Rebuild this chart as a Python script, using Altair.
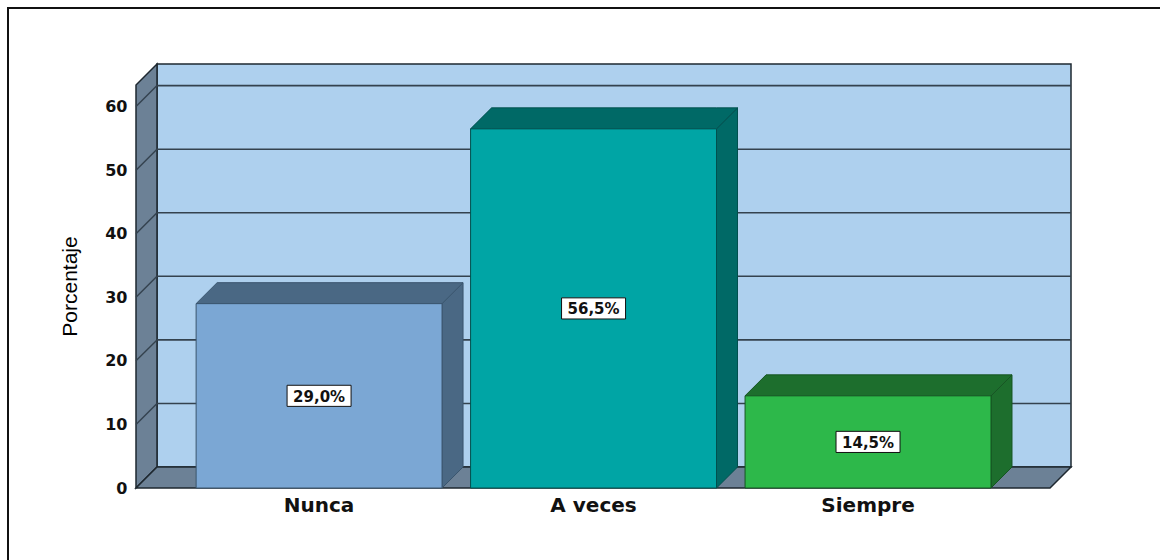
import altair as alt
import pandas as pd

# ---------------- data ----------------
categories = ["Nunca", "A veces", "Siempre"]
percentages = [29.0, 56.5, 14.5]
value_labels = ["29,0%", "56,5%", "14,5%"]
y_ticks = [0, 10, 20, 30, 40, 50, 60]

# ---------------- styles ----------------
front_colors = ["#7BA7D4", "#00A5A5", "#2DB84A"]
dark_colors = ["#4A6884", "#006966", "#1D6E2D"]
edge_colors = ["#3A556E", "#00504E", "#165522"]
WALL_BACK = "#AED0EE"
WALL_SIDE = "#6C8196"
LINE_DARK = "#1E2830"
GRID = "#34424E"

# ---------------- geometry (scale units) ----------------
BAR_W = 0.896      # bar front width (category slot = 1)
DX = 0.0765        # depth offset, x
DY = 3.3           # depth offset, value units
X_LEFT = -0.667    # front-left corner of floor
X_RIGHT = 2.663    # front-right corner of floor
Y_TOP = 63.4       # top of walls (front)
YMAX = Y_TOP + DY
XMIN, XMAX = X_LEFT, X_RIGHT + DX

PLOT_W, PLOT_H = 935, 424

xs = alt.Scale(domain=[XMIN, XMAX], nice=False, zero=False)
ys = alt.Scale(domain=[0, YMAX], nice=False, zero=False)

y_axis = alt.Axis(
    values=y_ticks, grid=False, domain=False, ticks=False,
    labelFont="DejaVu Sans", labelFontWeight="bold", labelFontSize=16,
    labelColor="#111111", labelPadding=9,
    title="Porcentaje", titleFont="Liberation Sans", titleFontSize=21,
    titleFontWeight=500, titleColor="#000000",
    titleX=-66, titleY=222, titleAngle=270, titleAlign="center", titleBaseline="middle",
)


def X(f="x"):
    return alt.X(f"{f}:Q", scale=xs, axis=None)


def X2(f="x2"):
    return alt.X2(f"{f}:Q")


def Y(f="y"):
    return alt.Y(f"{f}:Q", scale=ys, axis=y_axis)


def Y2(f="y2"):
    return alt.Y2(f"{f}:Q")


centers = list(range(len(categories)))

# back wall
back_df = pd.DataFrame([{"x": X_LEFT + DX, "x2": X_RIGHT + DX, "y": DY, "y2": YMAX}])
back = alt.Chart(back_df).mark_rect(
    fill=WALL_BACK, stroke=LINE_DARK, strokeWidth=1.5
).encode(x=X(), x2=X2(), y=Y(), y2=Y2())

# side wall
side_df = pd.DataFrame([
    {"x": X_LEFT, "y": 0.0, "y2": Y_TOP},
    {"x": X_LEFT + DX, "y": DY, "y2": Y_TOP + DY},
])
side = alt.Chart(side_df).mark_area(
    fill=WALL_SIDE, stroke=LINE_DARK, strokeWidth=1.5, opacity=1
).encode(x=X(), y=Y(), y2=Y2())

# floor
floor_df = pd.DataFrame([
    {"x": X_LEFT, "y": 0.0, "y2": 0.0},
    {"x": X_LEFT + DX, "y": 0.0, "y2": DY},
    {"x": X_RIGHT, "y": 0.0, "y2": DY},
    {"x": X_RIGHT + DX, "y": DY, "y2": DY},
])
floor = alt.Chart(floor_df).mark_area(
    fill=WALL_SIDE, stroke=LINE_DARK, strokeWidth=1.5, opacity=1
).encode(x=X(), y=Y(), y2=Y2())

# grid lines on back wall
grid_df = pd.DataFrame([
    {"x": X_LEFT + DX, "x2": X_RIGHT + DX, "y": t + DY} for t in y_ticks[1:]
])
grid = alt.Chart(grid_df).mark_rule(stroke=GRID, strokeWidth=1.6).encode(
    x=X(), x2=X2(), y=Y()
)

# diagonal grid lines on side wall
diag_rows = []
for t in y_ticks[1:]:
    diag_rows.append({"x": X_LEFT, "y": t, "t": t})
    diag_rows.append({"x": X_LEFT + DX, "y": t + DY, "t": t})
diag = alt.Chart(pd.DataFrame(diag_rows)).mark_line(
    stroke=GRID, strokeWidth=1.4
).encode(x=X(), y=Y(), detail="t:N")

# bars: front, top, side faces
front_rows, top_rows, sidef_rows = [], [], []
for i, (c, v) in enumerate(zip(centers, percentages)):
    x0, x1 = c - BAR_W / 2, c + BAR_W / 2
    front_rows.append({"x": x0, "x2": x1, "y": 0.0, "y2": v,
                       "fill": front_colors[i], "edge": edge_colors[i]})
    for px, py, py2 in [(x0, v, v), (x0 + DX, v, v + DY), (x1, v, v + DY), (x1 + DX, v + DY, v + DY)]:
        top_rows.append({"id": i, "x": px, "y": py, "y2": py2,
                         "fill": dark_colors[i], "edge": edge_colors[i]})
    for px, py, py2 in [(x1, 0.0, v), (x1 + DX, DY, v + DY)]:
        sidef_rows.append({"id": i, "x": px, "y": py, "y2": py2,
                           "fill": dark_colors[i], "edge": edge_colors[i]})

bar_front = alt.Chart(pd.DataFrame(front_rows)).mark_rect(strokeWidth=1).encode(
    x=X(), x2=X2(), y=Y(), y2=Y2(),
    fill=alt.Fill("fill:N", scale=None), stroke=alt.Stroke("edge:N", scale=None),
)
bar_top = alt.Chart(pd.DataFrame(top_rows)).mark_area(strokeWidth=1, opacity=1).encode(
    x=X(), y=Y(), y2=Y2(), detail="id:N",
    fill=alt.Fill("fill:N", scale=None), stroke=alt.Stroke("edge:N", scale=None),
)
bar_side = alt.Chart(pd.DataFrame(sidef_rows)).mark_area(strokeWidth=1, opacity=1).encode(
    x=X(), y=Y(), y2=Y2(), detail="id:N",
    fill=alt.Fill("fill:N", scale=None), stroke=alt.Stroke("edge:N", scale=None),
)

# value labels in boxes
lab_df = pd.DataFrame({
    "x": centers,
    "y": [v / 2 for v in percentages],
    "label": value_labels,
})
BOX = "M-1,-0.33L1,-0.33L1,0.33L-1,0.33Z"
boxes = alt.Chart(lab_df).mark_point(
    shape=BOX, size=64 ** 2, filled=True, fill="white", stroke="#111111",
    strokeWidth=1, opacity=1, fillOpacity=1
).encode(x=X(), y=Y())
box_text = alt.Chart(lab_df).mark_text(
    font="DejaVu Sans", fontWeight="bold", fontSize=15, color="#111111",
    baseline="middle", align="center", dy=1
).encode(x=X(), y=Y(), text="label:N")

# category labels
cat_df = pd.DataFrame({"x": centers, "y": [0.0] * len(centers), "cat": categories})
cat_text = alt.Chart(cat_df).mark_text(
    font="DejaVu Sans", fontWeight="bold", fontSize=20, color="#111111",
    baseline="middle", align="center", dy=18
).encode(x=X(), y=Y(), text="cat:N")

# outer frame (top and left edges)
one = pd.DataFrame({"a": [0]})
frame_left = alt.Chart(one).mark_rule(stroke="#111111", strokeWidth=2).encode(
    x=alt.value(-128), y=alt.value(-56), y2=alt.value(PLOT_H + 80)
)
frame_top = alt.Chart(one).mark_rule(stroke="#111111", strokeWidth=2).encode(
    x=alt.value(-129), x2=alt.value(PLOT_W + 100), y=alt.value(-56)
)

chart = alt.layer(
    back, side, floor, grid, diag,
    bar_side, bar_top, bar_front,
    boxes, box_text, cat_text,
    frame_left, frame_top,
).properties(
    width=PLOT_W, height=PLOT_H,
    padding={"left": 136, "top": 64, "right": 89, "bottom": 72},
    autosize=alt.AutoSizeParams(type="none"),
    background="white",
).configure_view(stroke=None)

chart.save("out.html", embed_options={"renderer": "svg", "actions": False})
